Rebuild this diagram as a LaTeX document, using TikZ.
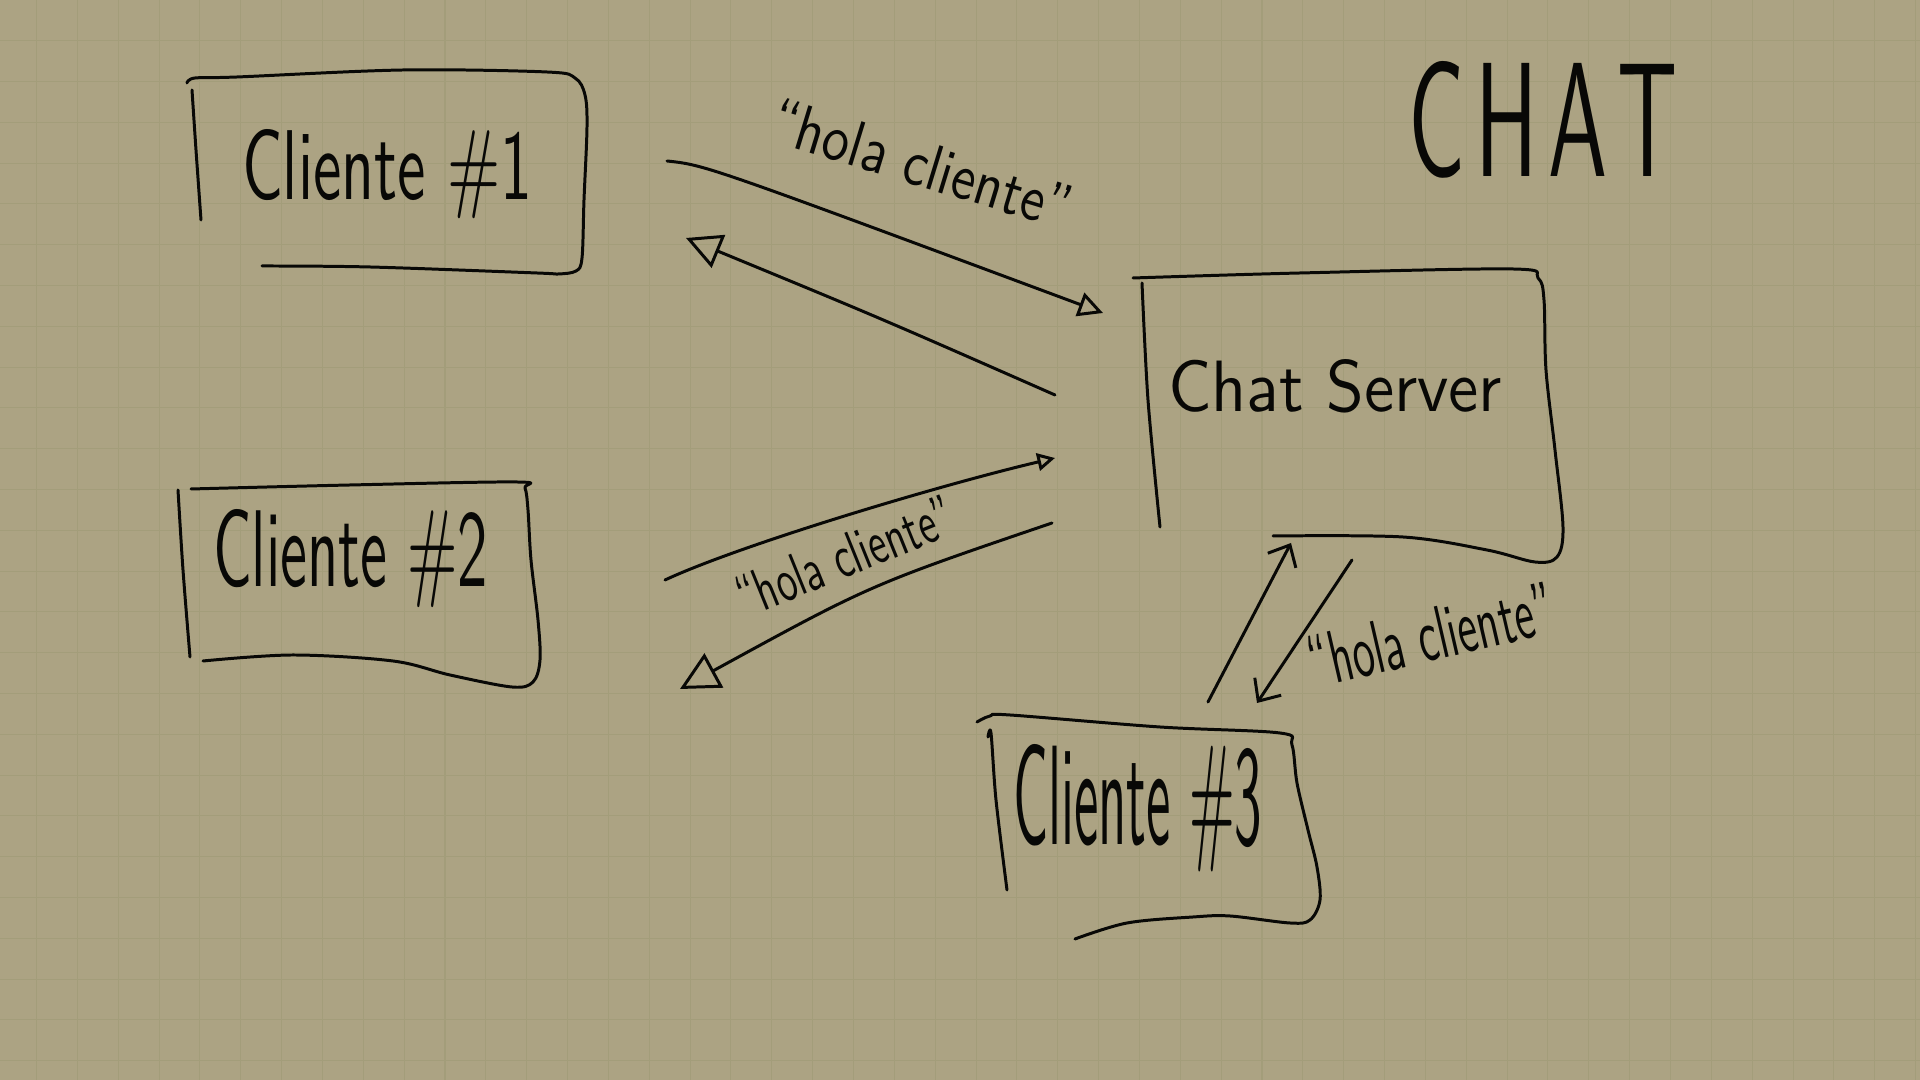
\documentclass[tikz,border=0pt]{standalone}
\usepackage{fontspec}
\usepackage{graphicx}
\usetikzlibrary{arrows.meta}
\definecolor{paper}{RGB}{172,163,131}
\definecolor{gridc}{RGB}{163,157,122}
\definecolor{ink}{RGB}{8,8,6}
\newcommand{\hw}[3]{\resizebox{#1}{#2}{\sffamily #3}}
\begin{document}
\begin{tikzpicture}[x=0.01cm,y=-0.01cm,
  pen/.style={draw=ink, line width=0.85pt, line cap=round, line join=round},
  txt/.style={inner sep=0pt, outer sep=0pt, text=ink},
  opentip/.style={-{Triangle[open,length=#1,width=#1]}},
  barbtip/.style={-{Straight Barb[length=5pt,width=9pt]}}]
\fill[paper] (0,0) rectangle (1920,1080);
\useasboundingbox (0,0) rectangle (1920,1080);
\foreach \i in {0,...,46} \draw[gridc, line width=0.3pt] ({36.5+40.85*\i},0) -- ({36.5+40.85*\i},1080);
\foreach \j in {0,...,25} \draw[gridc, line width=0.3pt] (0,{40.7+40.8*\j}) -- (1920,{40.7+40.8*\j});

% title
\node[txt, anchor=base west] (title) at (1408,177) {\hw{2.70cm}{1.15cm}{C\kern1.2pt H\kern1.2pt A\kern1.2pt T}};

% boxes with text
\node[txt, anchor=base west] (c1) at (242,200) {\hw{2.90cm}{0.70cm}{Cliente \#1}};
\draw[pen] plot[smooth, tension=0.55] coordinates {(187,83) (195,78) (237,77) (403,70) (547,72) (575,78) (585,95) (587,127) (584,200) (582,258) (576,271) (558,274) (537,273) (370,267) (262,266)};
\draw[pen] plot[smooth] coordinates {(192,90) (196,150) (201,220)};

\node[txt, anchor=base west] (c2) at (213,587) {\hw{2.75cm}{0.77cm}{Cliente \#2}};
\draw[pen] plot[smooth] coordinates {(178,490) (183,570) (190,657)};
\draw[pen] plot[smooth, tension=0.55] coordinates {(191,489) (350,485) (517,482) (525,488) (528,510) (531,560) (538,620) (540,660) (533,682) (512,687) (450,675) (393,661) (293,655) (203,661)};

\node[txt, anchor=base west] (srv) at (1168,412) {\hw{3.34cm}{0.52cm}{Chat Server}};
\draw[pen] plot[smooth, tension=0.55] coordinates {(1133,278) (1300,273) (1513,269) (1538,278) (1544,300) (1546,370) (1555,450) (1563,527) (1557,557) (1535,562) (1487,550) (1403,537) (1273,536)};
\draw[pen] plot[smooth] coordinates {(1142,283) (1148,400) (1160,527)};

\node[txt, anchor=base west] (c3) at (1013,845) {\hw{2.49cm}{1.00cm}{Cliente \#3}};
\draw[pen] plot[smooth, tension=0.55] coordinates {(977,722) (990,716) (1010,715) (1160,727) (1280,733) (1292,745) (1297,783) (1308,830) (1317,867) (1320,900) (1310,920) (1290,923) (1230,916) (1193,917) (1127,923) (1075,939)};
\draw[pen] plot[smooth] coordinates {(988,737) (991,733) (996,800) (1007,890)};

% connector end points
\coordinate (a1s) at (667,161);
\coordinate (a1e) at (1103,313);
\coordinate (b1s) at (1055,395);
\coordinate (b1e) at (686,238);
\coordinate (c2s) at (665,580);
\coordinate (c2e) at (1055,458);
\coordinate (d2s) at (1052,523);
\coordinate (d2e) at (680,689);
\coordinate (e3s) at (1208,702);
\coordinate (e3e) at (1291,543);
\coordinate (f3s) at (1352,560);
\coordinate (f3e) at (1257,703);

% connectors
\draw[pen, opentip=7pt] (a1s) .. controls (705,165) .. (a1e);
\draw[pen, opentip=10pt] (b1s) .. controls (880,318) .. (b1e);
\draw[pen, opentip=5pt] (c2s) .. controls (740,545) and (940,485) .. (c2e);
\draw[pen, opentip=11pt] (d2s) .. controls (870,585) .. (d2e);
\draw[pen, barbtip] (e3s) -- (e3e);
\draw[pen, barbtip] (f3s) -- (f3e);

% labels
\node[txt, rotate=-17] (l1) at (922,164) {\hw{3.10cm}{0.45cm}{“hola cliente”}};
\node[txt, rotate=22] (l2) at (845,556) {\hw{2.30cm}{0.42cm}{“hola cliente”}};
\node[txt, rotate=13] (l3) at (1431,635) {\hw{2.50cm}{0.52cm}{“hola cliente”}};
\end{tikzpicture}
\end{document}
